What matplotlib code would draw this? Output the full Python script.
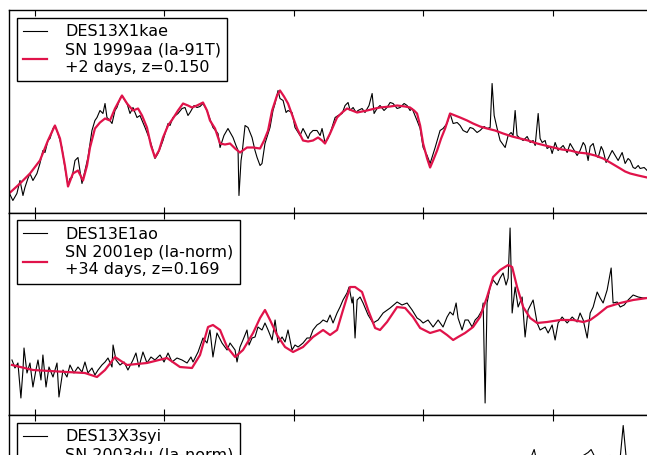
"""Three stacked supernova spectra, each overlaid with its best-match template."""

import matplotlib

matplotlib.use("Agg")
import matplotlib.pyplot as plt  # noqa: E402

INK = "black"
RED = "#e0134a"

# --- DES13X1kae vs SN 1999aa -------------------------------------------------
wave_kae = [
    3800, 3830, 3861, 3885, 3908, 3923, 3946, 3962, 3985, 4016,
    4039, 4062, 4078, 4101, 4117, 4140, 4155, 4178, 4194, 4209,
    4232, 4256, 4271, 4287, 4310, 4333, 4348, 4364, 4387, 4410,
    4441, 4464, 4480, 4503, 4526, 4542, 4557, 4580, 4596, 4619,
    4634, 4658, 4673, 4696, 4712, 4735, 4758, 4789, 4812, 4835,
    4851, 4890, 4913, 4928, 4951, 4967, 4990, 5029, 5044, 5067,
    5106, 5137, 5160, 5183, 5199, 5230, 5253, 5276, 5299, 5322,
    5338, 5376, 5415, 5431, 5461, 5492, 5531, 5554, 5570, 5577,
    5593, 5601, 5624, 5647, 5678, 5701, 5717, 5740, 5755, 5778,
    5817, 5840, 5856, 5879, 5894, 5918, 5941, 5956, 5987, 6010,
    6049, 6072, 6088, 6111, 6126, 6149, 6180, 6204, 6219, 6242,
    6265, 6281, 6320, 6343, 6374, 6397, 6420, 6436, 6459, 6482,
    6497, 6528, 6551, 6582, 6606, 6621, 6644, 6667, 6698, 6721,
    6745, 6768, 6799, 6822, 6853, 6876, 6899, 6915, 6953, 6977,
    7000, 7031, 7054, 7093, 7131, 7154, 7185, 7208, 7232, 7263,
    7286, 7309, 7340, 7363, 7386, 7417, 7440, 7471, 7494, 7518,
    7533, 7549, 7572, 7595, 7634, 7657, 7680, 7695, 7711, 7726,
    7750, 7773, 7804, 7827, 7850, 7866, 7889, 7904, 7920, 7943,
    7958, 7982, 7997, 8020, 8043, 8059, 8082, 8113, 8136, 8159,
    8190, 8213, 8237, 8252, 8275, 8291, 8314, 8337, 8353, 8376,
    8391, 8414, 8430, 8461, 8484, 8507, 8538, 8561, 8584, 8600,
    8623, 8639, 8662, 8677, 8708, 8731,
]
flux_kae = [
    20, 12, 19, 32, 17, 25, 34, 39, 32, 39,
    49, 62, 60, 72, 74, 84, 87, 79, 72, 65,
    45, 27, 34, 35, 52, 55, 42, 29, 42, 55,
    82, 92, 95, 102, 99, 109, 95, 92, 89, 102,
    105, 114, 117, 112, 109, 99, 105, 95, 97, 90,
    85, 72, 62, 54, 59, 64, 72, 89, 87, 95,
    99, 104, 105, 97, 100, 107, 105, 106, 109, 104,
    99, 85, 79, 65, 77, 84, 75, 67, 62, 17,
    52, 59, 87, 85, 75, 62, 55, 47, 49, 69,
    85, 102, 109, 122, 114, 112, 100, 102, 100, 85,
    77, 84, 80, 74, 79, 82, 82, 77, 84, 70,
    74, 79, 95, 97, 99, 107, 110, 102, 105, 100,
    102, 104, 100, 107, 119, 99, 104, 107, 102, 105,
    110, 109, 104, 105, 109, 107, 102, 104, 92, 84,
    65, 57, 49, 65, 82, 84, 89, 99, 89, 90,
    87, 82, 80, 85, 84, 80, 82, 86, 84, 85,
    129, 97, 84, 72, 65, 77, 80, 77, 102, 77,
    74, 72, 76, 70, 72, 67, 99, 74, 70, 72,
    64, 66, 59, 70, 62, 64, 67, 60, 69, 64,
    57, 62, 70, 67, 52, 66, 69, 57, 55, 66,
    62, 50, 54, 62, 57, 52, 60, 49, 54, 52,
    45, 44, 47, 44, 45, 42,
]
wave_99aa = [
    3800, 3885, 3962, 4039, 4101, 4155, 4194, 4232, 4256, 4294,
    4333, 4372, 4403, 4426, 4464, 4503, 4542, 4580, 4619, 4673,
    4712, 4758, 4797, 4828, 4866, 4897, 4928, 4959, 4990, 5029,
    5067, 5106, 5145, 5183, 5214, 5253, 5299, 5330, 5353, 5392,
    5431, 5469, 5508, 5547, 5585, 5639, 5686, 5740, 5771, 5802,
    5833, 5871, 5894, 5925, 5956, 5995, 6026, 6072, 6111, 6149,
    6188, 6219, 6242, 6281, 6335, 6374, 6412, 6451, 6490, 6528,
    6567, 6629, 6667, 6745, 6799, 6861, 6899, 6930, 6953, 6977,
    7000, 7031, 7054, 7077, 7108, 7139, 7170, 7208, 7247, 7286,
    7340, 7386, 7440, 7494, 7556, 7618, 7688, 7750, 7811, 7881,
    7943, 8005, 8074, 8136, 8198, 8268, 8329, 8391, 8445, 8484,
    8523, 8561, 8600, 8662, 8731,
]
flux_99aa = [
    19, 29, 39, 52, 72, 87, 74, 47, 26, 39,
    42, 32, 47, 65, 84, 90, 94, 92, 104, 117,
    109, 102, 104, 97, 85, 67, 55, 62, 75, 87,
    94, 102, 109, 107, 105, 107, 110, 102, 92, 84,
    69, 68, 69, 64, 60, 65, 65, 64, 72, 82,
    102, 117, 122, 116, 109, 95, 84, 72, 71, 72,
    75, 72, 69, 79, 95, 100, 104, 102, 100, 101,
    102, 104, 105, 106, 107, 106, 105, 102, 99, 87,
    69, 54, 45, 52, 62, 74, 84, 99, 97, 95,
    92, 89, 86, 84, 82, 79, 76, 74, 72, 69,
    67, 65, 63, 62, 60, 59, 57, 54, 50, 47,
    44, 41, 39, 37, 35,
]

# --- DES13E1ao vs SN 2001ep --------------------------------------------------
wave_e1ao = [
    3823, 3846, 3869, 3892, 3908, 3916, 3939, 3962, 3985, 4008,
    4024, 4047, 4062, 4086, 4109, 4140, 4171, 4186, 4217, 4248,
    4271, 4302, 4333, 4364, 4387, 4410, 4441, 4464, 4488, 4518,
    4542, 4565, 4596, 4604, 4627, 4658, 4689, 4719, 4758, 4781,
    4804, 4835, 4866, 4897, 4928, 4967, 4998, 5029, 5060, 5098,
    5137, 5176, 5206, 5222, 5261, 5299, 5330, 5353, 5376, 5407,
    5446, 5485, 5508, 5547, 5562, 5585, 5608, 5639, 5655, 5678,
    5701, 5724, 5755, 5778, 5802, 5833, 5856, 5879, 5910, 5933,
    5956, 5987, 6010, 6034, 6072, 6103, 6126, 6149, 6180, 6204,
    6227, 6258, 6281, 6304, 6335, 6358, 6381, 6412, 6428, 6451,
    6459, 6474, 6490, 6513, 6536, 6575, 6613, 6652, 6691, 6745,
    6799, 6837, 6876, 6915, 6953, 6977, 7000, 7038, 7077, 7116,
    7154, 7185, 7208, 7232, 7255, 7270, 7301, 7324, 7348, 7379,
    7402, 7425, 7456, 7464, 7479, 7494, 7518, 7541, 7572, 7595,
    7618, 7641, 7657, 7672, 7688, 7711, 7734, 7765, 7788, 7811,
    7850, 7881, 7904, 7943, 7966, 7997, 8020, 8043, 8074, 8113,
    8152, 8190, 8213, 8237, 8268, 8291, 8314, 8345, 8368, 8391,
    8422, 8453, 8468, 8499, 8523, 8554, 8584, 8623, 8662, 8700,
    8731,
]
flux_e1ao = [
    55, 47, 52, 17, 45, 67, 42, 52, 28, 45,
    55, 35, 60, 28, 48, 38, 52, 18, 45, 38,
    50, 42, 48, 43, 53, 42, 47, 40, 45, 50,
    53, 57, 48, 70, 55, 50, 53, 45, 55, 62,
    48, 63, 52, 58, 55, 60, 53, 62, 53, 57,
    55, 52, 58, 53, 63, 77, 72, 85, 58, 82,
    72, 65, 72, 65, 53, 68, 75, 85, 70, 77,
    78, 88, 85, 92, 85, 75, 95, 72, 78, 73,
    85, 65, 70, 68, 72, 77, 77, 85, 90, 92,
    95, 93, 100, 92, 102, 108, 115, 122, 128, 112,
    118, 77, 115, 118, 112, 100, 92, 95, 102, 107,
    113, 110, 112, 105, 97, 95, 92, 95, 88, 95,
    88, 98, 103, 100, 112, 97, 85, 95, 95, 88,
    95, 98, 105, 112, 12, 112, 128, 135, 130, 137,
    142, 130, 137, 187, 102, 128, 108, 118, 78, 105,
    115, 92, 85, 88, 82, 90, 75, 92, 98, 92,
    98, 93, 102, 95, 77, 102, 108, 123, 117, 112,
    125, 147, 112, 113, 108, 110, 115, 120, 118, 117,
    117,
]
wave_01ep = [
    3823, 3985, 4248, 4387, 4480, 4542, 4619, 4712, 4866, 5021,
    5121, 5214, 5276, 5338, 5376, 5431, 5485, 5547, 5608, 5686,
    5740, 5778, 5817, 5871, 5933, 5995, 6072, 6149, 6227, 6281,
    6335, 6381, 6436, 6474, 6528, 6575, 6629, 6667, 6721, 6799,
    6861, 6922, 6977, 7054, 7131, 7185, 7232, 7270, 7324, 7386,
    7440, 7494, 7541, 7595, 7657, 7688, 7726, 7773, 7827, 7881,
    7958, 8059, 8159, 8237, 8291, 8345, 8422, 8523, 8623, 8731,
]
flux_01ep = [
    50, 45, 43, 42, 38, 45, 58, 50, 52, 57,
    48, 47, 60, 88, 90, 85, 68, 58, 65, 82,
    97, 105, 95, 80, 68, 63, 68, 78, 85, 80,
    85, 105, 128, 128, 123, 105, 87, 85, 93, 108,
    107, 98, 87, 82, 85, 80, 75, 78, 82, 88,
    98, 118, 138, 145, 150, 148, 128, 108, 97, 92,
    93, 95, 95, 93, 95, 100, 108, 112, 115, 117,
]

# --- DES13X3syi vs SN 2003du (only the top of this panel is in frame) --------
wave_syi = [
    3800, 4503, 5276, 6049, 6822, 7440, 7750, 7827, 7858, 7881,
    7943, 8059, 8213, 8275, 8298, 8329, 8445, 8523, 8546, 8569,
    8677, 8731,
]
flux_syi = [
    100, 110, 120, 130, 140, 150, 155, 158, 168, 155,
    160, 158, 160, 165, 168, 160, 162, 160, 192, 160,
    158, 157,
]
wave_03du = [3800, 5000, 6500, 8000, 8731]
flux_03du = [95, 120, 140, 150, 150]

PANELS = [
    (wave_kae, flux_kae, "DES13X1kae",
     wave_99aa, flux_99aa, "SN 1999aa (Ia-91T)\n+2 days, z=0.150"),
    (wave_e1ao, flux_e1ao, "DES13E1ao",
     wave_01ep, flux_01ep, "SN 2001ep (Ia-norm)\n+34 days, z=0.169"),
    (wave_syi, flux_syi, "DES13X3syi",
     wave_03du, flux_03du, "SN 2003du (Ia-norm)\n"),
]
TICKS = [4000, 5000, 6000, 7000, 8000]

W, H = 647, 455
fig = plt.figure(figsize=(W / 100, H / 100), dpi=100)

left, width = 9 / W, 660 / W
height = 202.5 / H
top_px = 10
for i, (wo, fo, lo, wt, ft, lt) in enumerate(PANELS):
    bottom = 1 - (top_px + (i + 1) * 202.5) / H
    ax = fig.add_axes([left, bottom, width, height])
    ax.plot(wo, fo, color=INK, linewidth=0.8, label=lo)
    ax.plot(wt, ft, color=RED, linewidth=1.6, label=lt)
    ax.set_xlim(3800, 8900)
    ax.set_ylim(0, 202.5)
    ax.set_xticks(TICKS)
    ax.set_yticks([])
    ax.tick_params(axis="x", direction="in", top=True, bottom=True,
                   length=4, width=0.8, labelbottom=False)
    for sp in ax.spines.values():
        sp.set_linewidth(1.0)
    leg = ax.legend(
        loc="upper left", fontsize=11.5, fancybox=False, framealpha=1,
        edgecolor=INK, borderpad=0.4, labelspacing=0.2, handlelength=1.5,
        handletextpad=1.1, borderaxespad=0.5,
    )
    leg.get_frame().set_linewidth(1.0)

fig.savefig("out.png", dpi=100)
